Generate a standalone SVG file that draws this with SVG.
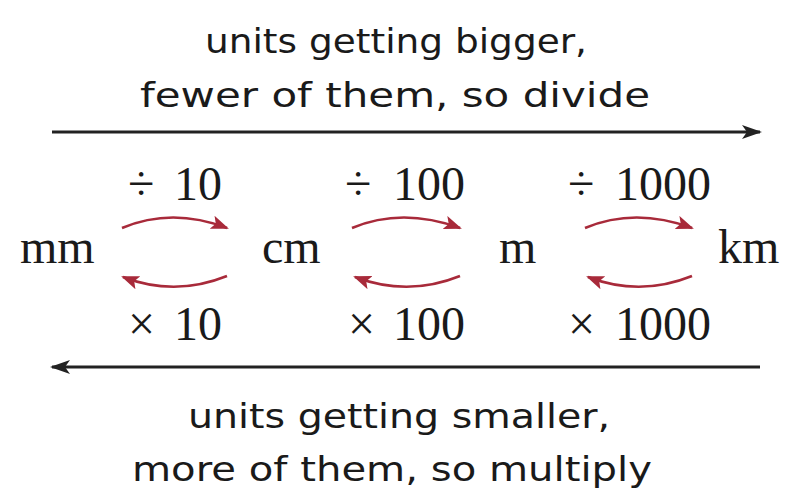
<svg xmlns="http://www.w3.org/2000/svg" width="790" height="501" viewBox="0 0 790 501">
<defs>
<style>
.hand{font-family:"DejaVu Sans","Noto Sans",sans-serif;font-size:34px;fill:#1a1a1a;}
.math{font-family:"Liberation Serif","Times New Roman",serif;font-size:48px;fill:#1a1a1a;}
.big{stroke:#222;stroke-width:3;fill:none;}
.red{stroke:#a82a3a;stroke-width:2.6;fill:none;}
</style>
<marker id="blk" viewBox="0 0 20 14" refX="18" refY="7" markerWidth="20" markerHeight="14" markerUnits="userSpaceOnUse" orient="auto">
<path d="M0,0 L20,7 L0,14 L5,7 Z" fill="#222"/>
</marker>
<marker id="rd" viewBox="0 0 18 14" refX="16" refY="7" markerWidth="18" markerHeight="14" markerUnits="userSpaceOnUse" orient="auto">
<path d="M0,0 L18,7 L0,14 L4,7 Z" fill="#a82a3a"/>
</marker>
</defs>
<rect width="790" height="501" fill="#ffffff"/>
<g id="top-label">
<text class="hand" x="396" y="53" text-anchor="middle" textLength="382" lengthAdjust="spacingAndGlyphs">units getting bigger,</text>
<text class="hand" x="395" y="107" text-anchor="middle" textLength="510" lengthAdjust="spacingAndGlyphs">fewer of them, so divide</text>
</g>
<g id="bottom-label">
<text class="hand" x="399" y="428" text-anchor="middle" textLength="422" lengthAdjust="spacingAndGlyphs">units getting smaller,</text>
<text class="hand" x="392" y="481" text-anchor="middle" textLength="520" lengthAdjust="spacingAndGlyphs">more of them, so multiply</text>
</g>
<g id="mm"><text class="math" x="20" y="263">mm</text></g>
<g id="cm"><text class="math" x="262" y="263">cm</text></g>
<g id="m"><text class="math" x="499" y="263">m</text></g>
<g id="km"><text class="math" x="718" y="263">km</text></g>
<g id="div10"><text class="math" x="128" y="200">÷<tspan x="174">10</tspan></text></g>
<g id="div100"><text class="math" x="345" y="200">÷<tspan x="393">100</tspan></text></g>
<g id="div1000"><text class="math" x="568" y="200">÷<tspan x="615">1000</tspan></text></g>
<g id="mul10"><text class="math" x="128" y="340">×<tspan x="174">10</tspan></text></g>
<g id="mul100"><text class="math" x="348" y="340">×<tspan x="393">100</tspan></text></g>
<g id="mul1000"><text class="math" x="568" y="340">×<tspan x="615">1000</tspan></text></g>
<g id="connectors">
<path class="big" d="M52,132 L760,132" marker-end="url(#blk)"/>
<path class="big" d="M760,367 L52,367" marker-end="url(#blk)"/>
<path class="red" d="M122,228 Q172,207 227,228" marker-end="url(#rd)"/>
<path class="red" d="M227,276 Q175,297 123,277" marker-end="url(#rd)"/>
<path class="red" d="M352,228 Q402,207 460,228" marker-end="url(#rd)"/>
<path class="red" d="M460,276 Q408,297 355,277" marker-end="url(#rd)"/>
<path class="red" d="M585,228 Q635,207 692,228" marker-end="url(#rd)"/>
<path class="red" d="M692,276 Q640,297 588,277" marker-end="url(#rd)"/>
</g>
</svg>
